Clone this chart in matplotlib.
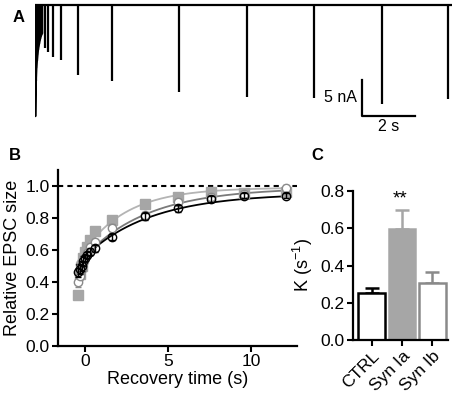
import numpy as np
import matplotlib
matplotlib.use("Agg")
import matplotlib.pyplot as plt

plt.rcParams['font.family'] = ['Liberation Sans', 'DejaVu Sans']
plt.rcParams['mathtext.fontset'] = 'custom'
plt.rcParams['mathtext.rm'] = 'Liberation Sans'
plt.rcParams['mathtext.it'] = 'Liberation Sans:italic'

# ---- data ----
# A: example trace (time in s, EPSC amplitude in nA)
train_t = [0.0, 0.02, 0.04, 0.06, 0.08, 0.10, 0.12, 0.14, 0.16, 0.18, 0.20, 0.22, 0.24, 0.26]
train_amp = [15.4, 10.5, 8.8, 7.8, 7.0, 6.3, 5.8, 5.4, 5.0, 4.7, 4.4, 4.2, 4.0, 3.9]
test_t = [0.38, 0.49, 0.68, 0.98, 1.62, 2.91, 5.43, 8.0, 10.53, 13.09, 15.58]
test_amp = [6.0, 6.5, 7.2, 7.6, 9.7, 10.6, 12.1, 12.8, 12.9, 13.75, 13.1]

# B: recovery
rec_t = [-0.4, -0.3, -0.2, -0.1, 0.0, 0.1, 0.3, 0.6, 1.6, 3.6, 5.6, 7.6, 9.6, 12.1]
ctrl_y = [0.46, 0.48, 0.50, 0.53, 0.55, 0.57, 0.59, 0.61, 0.68, 0.81, 0.86, 0.92, 0.94, 0.94]
ctrl_err = [0.03, 0.03, 0.03, 0.03, 0.02, 0.02, 0.02, 0.02, 0.02, 0.02, 0.02, 0.02, 0.015, 0.015]
syn_ia_y = [0.32, 0.45, 0.50, 0.55, 0.59, 0.62, 0.66, 0.72, 0.79, 0.885, 0.933, 0.96, 0.955, 0.96]
syn_ib_y = [0.40, 0.44, 0.48, 0.52, 0.55, 0.58, 0.62, 0.65, 0.74, 0.82, 0.90, 0.93, 0.95, 0.99]
syn_ib_err = [0.03, 0.03, 0.03, 0.02, 0.02, 0.02, 0.02, 0.02, 0.02, 0.02, 0.02, 0.02, 0.015, 0.015]
# single exponential fits: plateau, y(0), rate
fit_ctrl = (0.955, 0.56, 0.25)
fit_ia = (0.99, 0.60, 0.38)
fit_ib = (0.99, 0.56, 0.26)

# C: recovery rates
groups = ['CTRL', 'Syn Ia', 'Syn Ib']
k_mean = [0.252, 0.596, 0.306]
k_sem = [0.028, 0.10, 0.059]

W, H = 454, 396
fig = plt.figure(figsize=(W / 100, H / 100), dpi=100)

def px_axes(l, t, r, b):
    return fig.add_axes([l / W, 1 - b / H, (r - l) / W, (b - t) / H])

black = 'black'
light = '#a6a6a6'
mid = '#8a8a8a'
fs = 12.5

# ---- A ----
axA = px_axes(35, 2, 452, 130)
axA.set_xlim(0, 15.74)
axA.set_ylim(-125 / 7.2, 3 / 7.2)
axA.axis('off')
axA.hlines(0, 0, 15.74, color=black, lw=1.6)
axA.fill_between(train_t, -np.array(train_amp), 0, color=black, lw=1.2)
axA.vlines(train_t, -np.array(train_amp), 0, color=black, lw=1.6)
axA.vlines(test_t, -np.array(test_amp), 0, color=black, lw=1.6)
# scale bar
axA.plot([12.34, 12.34, 14.34], [-10.4, -15.4, -15.4], color=black, lw=1.6)
axA.text(12.15, -12.9, '5 nA', ha='right', va='center', fontsize=fs - 1)
axA.text(13.34, -15.9, '2 s', ha='center', va='top', fontsize=fs - 1)

# ---- B ----
axB = px_axes(58, 170, 297, 346)
axB.set_xlim(-1.63, 12.77)
axB.set_ylim(0, 1.1)
tt = np.linspace(-0.5, 12.3, 200)
for (p, y0, k), c, lw in [(fit_ia, '#b4b4b4', 1.3), (fit_ib, '#7a7a7a', 1.3), (fit_ctrl, black, 1.3)]:
    axB.plot(tt, p - (p - y0) * np.exp(-k * tt), color=c, lw=lw, zorder=2)
axB.axhline(1.0, color=black, ls=(0, (2.5, 2)), lw=1.5, zorder=1)
axB.plot(rec_t, syn_ia_y, 's', color=light, ms=6.5, mec=light, zorder=3)
axB.errorbar(rec_t, syn_ib_y, yerr=syn_ib_err, fmt='o', color=mid, mfc='white',
             mec=mid, ms=6, capsize=2.5, lw=1, zorder=4)
axB.errorbar(rec_t, ctrl_y, yerr=ctrl_err, fmt='o', color=black, mfc='none',
             mec=black, ms=6, capsize=2.5, lw=1, mew=1, zorder=5)
axB.set_xticks([0, 5, 10])
axB.set_yticks([0.0, 0.2, 0.4, 0.6, 0.8, 1.0])
axB.set_yticklabels(['0.0', '0.2', '0.4', '0.6', '0.8', '1.0'])
axB.set_xlabel('Recovery time (s)', fontsize=fs + 0.5, labelpad=1)
axB.set_ylabel('Relative EPSC size', fontsize=fs + 0.5, labelpad=3)

# ---- C ----
axC = px_axes(353, 191, 448, 340)
axC.set_xlim(-0.61, 2.51)
axC.set_ylim(0, 0.8)
faces = ['white', light, 'white']
edges = [black, light, mid]
x = np.arange(len(groups))
axC.bar(x, k_mean, width=0.88, color=faces, edgecolor=edges, linewidth=1.8, zorder=2)
for xi, m, e, c in zip(x, k_mean, k_sem, edges):
    axC.errorbar(xi, m, yerr=[[0], [e]], color=c, capsize=5, lw=1.8, capthick=1.8, zorder=1)
axC.text(0.95, 0.755, '**', ha='center', va='center', fontsize=fs + 1)
axC.set_yticks([0.0, 0.2, 0.4, 0.6, 0.8])
axC.set_yticklabels(['0.0', '0.2', '0.4', '0.6', '0.8'])
axC.set_xticks(x)
axC.set_xticklabels(groups, rotation=45, ha='right', rotation_mode='anchor', fontsize=fs - 0.5)
axC.set_ylabel('K (s$^{-1}$)', fontsize=fs + 0.5, labelpad=4)

for ax in (axB, axC):
    for s in ('top', 'right'):
        ax.spines[s].set_visible(False)
    for s in ('left', 'bottom'):
        ax.spines[s].set_linewidth(1.6)
    ax.tick_params(width=1.5, length=4, labelsize=fs, pad=2)

fig.text(13 / W, 1 - 17 / H, 'A', fontsize=12, fontweight='bold', va='center', ha='left')
fig.text(9 / W, 1 - 155 / H, 'B', fontsize=12, fontweight='bold', va='center', ha='left')
fig.text(311 / W, 1 - 155 / H, 'C', fontsize=12, fontweight='bold', va='center', ha='left')

fig.savefig('out.png', dpi=100)
